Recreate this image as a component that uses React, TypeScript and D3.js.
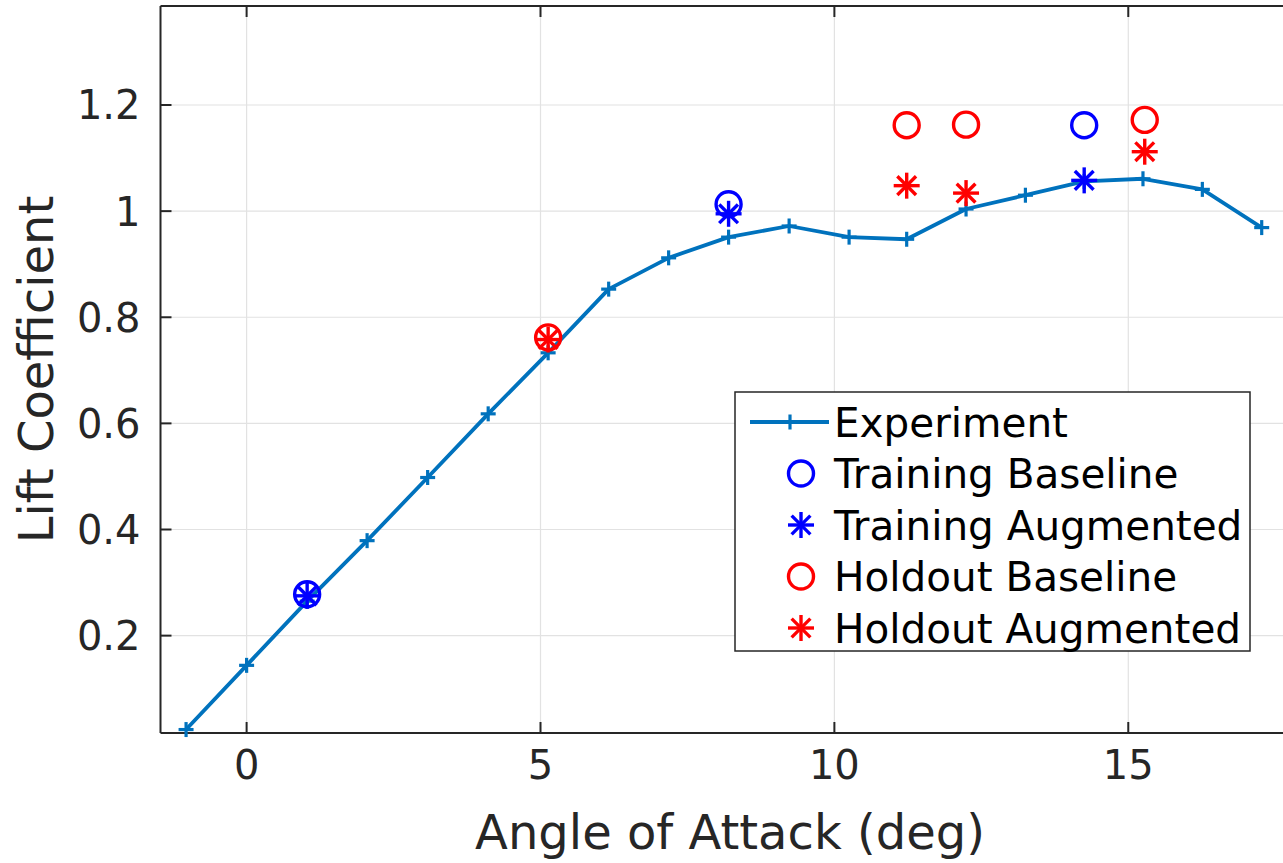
import React from "react";
import * as d3 from "d3";

const expAoA = [-1.03, 0, 1.03, 2.05, 3.08, 4.11, 5.13, 6.16, 7.18, 8.2, 9.23, 10.25, 11.23, 12.24, 13.25, 14.25, 15.25, 16.26, 17.27];
const expCl = [0.023, 0.144, 0.265, 0.379, 0.498, 0.618, 0.733, 0.853, 0.912, 0.951, 0.972, 0.951, 0.947, 1.004, 1.03, 1.056, 1.061, 1.041, 0.969];

const trainAoA = [1.03, 8.2, 14.25];
const trainBaseline = [0.278, 1.013, 1.162];
const trainAugmented = [0.275, 0.995, 1.058];

const holdAoA = [5.13, 11.23, 12.24, 15.28];
const holdBaseline = [0.762, 1.162, 1.163, 1.172];
const holdAugmented = [0.758, 1.048, 1.034, 1.112];

const xTicks = [0, 5, 10, 15];
const yTicks = [0.2, 0.4, 0.6, 0.8, 1, 1.2];

const legendLabels = ["Experiment", "Training Baseline", "Training Augmented", "Holdout Baseline", "Holdout Augmented"];

const W = 1283;
const H = 863;
const left = 160.5;
const top = 6;
const bottom = 733;
const right = 1334;

const BLUE_EXP = "#0072BD";
const BLUE = "#0000FF";
const RED = "#FF0000";
const AX = "#262626";
const FONT = "'DejaVu Sans', sans-serif";

function Plus({ cx, cy, s, color }: { cx: number; cy: number; s: number; color: string }) {
  return (
    <g stroke={color} strokeWidth={3.2}>
      <line x1={cx - s} y1={cy} x2={cx + s} y2={cy} />
      <line x1={cx} y1={cy - s} x2={cx} y2={cy + s} />
    </g>
  );
}

function Star({ cx, cy, s, color }: { cx: number; cy: number; s: number; color: string }) {
  const d = s * 0.72;
  return (
    <g stroke={color} strokeWidth={3.4}>
      <line x1={cx - s} y1={cy} x2={cx + s} y2={cy} />
      <line x1={cx} y1={cy - s} x2={cx} y2={cy + s} />
      <line x1={cx - d} y1={cy - d} x2={cx + d} y2={cy + d} />
      <line x1={cx - d} y1={cy + d} x2={cx + d} y2={cy - d} />
    </g>
  );
}

export default function App() {
  const x = d3.scaleLinear().domain([-1.465, 18.5]).range([left, right]);
  const y = d3.scaleLinear().domain([0.0165, 1.3866]).range([bottom, top]);
  const line = d3
    .line<number>()
    .x((_, i) => x(expAoA[i]))
    .y((v) => y(v));

  const lgX = 735;
  const lgY = 392;
  const lgW = 515;
  const lgH = 259;
  const rowH = 51.5;
  const row0 = 422;
  const R = 12.5;

  return (
    <svg width={W} height={H} style={{ position: "absolute", left: 0, top: 0, background: "#fff" }} fontFamily={FONT}>
      <rect x={0} y={0} width={W} height={H} fill="#fff" />
      {/* grid */}
      <g stroke="#e2e2e2" strokeWidth={1.2}>
        {xTicks.map((t) => (
          <line key={"gx" + t} x1={x(t)} x2={x(t)} y1={top} y2={bottom} />
        ))}
        {yTicks.map((t) => (
          <line key={"gy" + t} x1={left} x2={right} y1={y(t)} y2={y(t)} />
        ))}
      </g>
      {/* axes box */}
      <g stroke={AX} strokeWidth={2} fill="none">
        <line x1={left} x2={right} y1={top} y2={top} />
        <line x1={left} x2={right} y1={bottom} y2={bottom} />
        <line x1={left} x2={left} y1={top} y2={bottom} />
      </g>
      {/* ticks */}
      <g stroke={AX} strokeWidth={2}>
        {xTicks.map((t) => (
          <g key={"tx" + t}>
            <line x1={x(t)} x2={x(t)} y1={bottom} y2={bottom - 11} />
            <line x1={x(t)} x2={x(t)} y1={top} y2={top + 11} />
          </g>
        ))}
        {yTicks.map((t) => (
          <line key={"ty" + t} x1={left} x2={left + 11} y1={y(t)} y2={y(t)} />
        ))}
      </g>
      <g fill={AX} fontSize={40}>
        {xTicks.map((t) => (
          <text key={"lx" + t} x={x(t)} y={bottom + 46} textAnchor="middle">
            {t}
          </text>
        ))}
        {yTicks.map((t) => (
          <text key={"ly" + t} x={left - 20} y={y(t)} dy="0.36em" textAnchor="end">
            {t}
          </text>
        ))}
      </g>
      <text x={730} y={849} textAnchor="middle" fontSize={48} fill={AX}>
        Angle of Attack (deg)
      </text>
      <text transform={`translate(53, ${(top + bottom) / 2}) rotate(-90)`} textAnchor="middle" fontSize={48} fill={AX}>
        Lift Coefficient
      </text>

      {/* experiment */}
      <path d={line(expCl) || ""} fill="none" stroke={BLUE_EXP} strokeWidth={3.8} strokeLinejoin="round" />
      {expCl.map((v, i) => (
        <Plus key={"e" + i} cx={x(expAoA[i])} cy={y(v)} s={7.5} color={BLUE_EXP} />
      ))}
      {trainBaseline.map((v, i) => (
        <circle key={"tb" + i} cx={x(trainAoA[i])} cy={y(v)} r={R} fill="none" stroke={BLUE} strokeWidth={3.4} />
      ))}
      {trainAugmented.map((v, i) => (
        <Star key={"ta" + i} cx={x(trainAoA[i])} cy={y(v)} s={13} color={BLUE} />
      ))}
      {holdBaseline.map((v, i) => (
        <circle key={"hb" + i} cx={x(holdAoA[i])} cy={y(v)} r={R} fill="none" stroke={RED} strokeWidth={3.4} />
      ))}
      {holdAugmented.map((v, i) => (
        <Star key={"ha" + i} cx={x(holdAoA[i])} cy={y(v)} s={13} color={RED} />
      ))}

      {/* legend */}
      <rect x={lgX} y={lgY} width={lgW} height={lgH} fill="#fff" stroke={AX} strokeWidth={1.5} />
      <line x1={750} x2={829} y1={row0} y2={row0} stroke={BLUE_EXP} strokeWidth={3.8} />
      <Plus cx={790} cy={row0} s={7.5} color={BLUE_EXP} />
      <circle cx={801} cy={row0 + rowH} r={R} fill="none" stroke={BLUE} strokeWidth={3.4} />
      <Star cx={801} cy={row0 + 2 * rowH} s={13} color={BLUE} />
      <circle cx={801} cy={row0 + 3 * rowH} r={R} fill="none" stroke={RED} strokeWidth={3.4} />
      <Star cx={801} cy={row0 + 4 * rowH} s={13} color={RED} />
      <g fontSize={40.5} fill="#000">
        {legendLabels.map((l, i) => (
          <text key={l} x={834} y={row0 + i * rowH} dy="0.36em">
            {l}
          </text>
        ))}
      </g>
    </svg>
  );
}
